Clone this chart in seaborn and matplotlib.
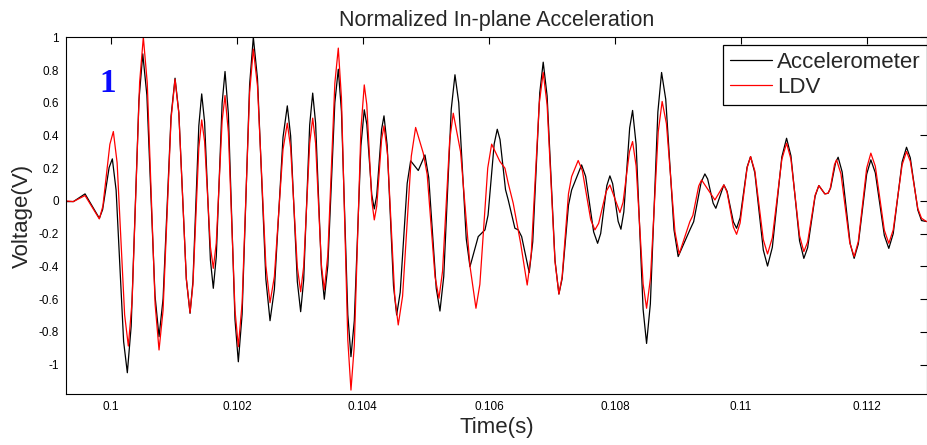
import numpy as np
import pandas as pd
import matplotlib
matplotlib.use("Agg")
import matplotlib.pyplot as plt
import seaborn as sns

# ---- data (time in ms, voltage normalized) ----
acc_t_ms = [99.291, 99.407, 99.592, 99.819, 99.871, 99.974, 100.025, 100.085, 100.204, 100.263,
            100.324, 100.447, 100.508, 100.573, 100.702, 100.766, 100.830, 100.957, 101.020, 101.080,
            101.199, 101.258, 101.304, 101.397, 101.443, 101.489, 101.581, 101.627, 101.674, 101.767,
            101.813, 101.866, 101.971, 102.024, 102.084, 102.203, 102.262, 102.328, 102.461, 102.527,
            102.596, 102.733, 102.801, 102.854, 102.960, 103.013, 103.061, 103.156, 103.204, 103.250,
            103.342, 103.388, 103.444, 103.555, 103.610, 103.660, 103.761, 103.811, 103.864, 103.969,
            104.022, 104.062, 104.141, 104.181, 104.220, 104.297, 104.335, 104.385, 104.486, 104.536,
            104.592, 104.703, 104.758, 104.879, 104.985, 105.045, 105.164, 105.223, 105.283, 105.402,
            105.461, 105.521, 105.640, 105.699, 105.830, 105.937, 105.986, 106.083, 106.132, 106.176,
            106.263, 106.306, 106.412, 106.465, 106.519, 106.639, 106.695, 106.806, 106.861, 106.923,
            107.048, 107.110, 107.161, 107.262, 107.312, 107.470, 107.534, 107.661, 107.724, 107.773,
            107.870, 107.919, 107.963, 108.050, 108.094, 108.140, 108.233, 108.279, 108.335, 108.446,
            108.501, 108.561, 108.680, 108.739, 108.805, 108.936, 109.002, 109.188, 109.248, 109.367,
            109.426, 109.470, 109.557, 109.600, 109.727, 109.778, 109.878, 109.929, 109.985, 110.096,
            110.151, 110.218, 110.353, 110.420, 110.496, 110.647, 110.722, 110.791, 110.928, 110.996,
            111.056, 111.175, 111.234, 111.329, 111.381, 111.421, 111.500, 111.540, 111.604, 111.731,
            111.794, 111.860, 111.993, 112.059, 112.130, 112.273, 112.344, 112.414, 112.555, 112.625,
            112.685, 112.804, 112.863, 112.942]
acc_v = [-0.004, -0.004, 0.043, -0.106, -0.053, 0.204, 0.257, 0.066, -0.859, -1.05,
         -0.765, 0.614, 0.899, 0.647, -0.578, -0.83, -0.599, 0.519, 0.75, 0.540,
         -0.477, -0.687, -0.491, 0.458, 0.654, 0.481, -0.361, -0.534, -0.341, 0.598,
         0.791, 0.532, -0.724, -0.983, -0.693, 0.710, 1.0, 0.747, -0.479, -0.732,
         -0.540, 0.389, 0.581, 0.397, -0.493, -0.677, -0.482, 0.464, 0.659, 0.475,
         -0.417, -0.601, -0.396, 0.600, 0.805, 0.548, -0.695, -0.952, -0.732, 0.337,
         0.557, 0.469, 0.039, -0.049, 0.034, 0.437, 0.52, 0.342, -0.519, -0.697,
         -0.559, 0.107, 0.245, 0.186, 0.281, 0.142, -0.534, -0.673, -0.462, 0.560,
         0.771, 0.600, -0.231, -0.402, -0.218, -0.177, -0.087, 0.348, 0.438, 0.375,
         0.069, 0.006, -0.167, -0.177, -0.218, -0.438, -0.250, 0.660, 0.848, 0.641,
         -0.362, -0.569, -0.476, -0.026, 0.067, 0.22, 0.150, -0.189, -0.259, -0.199,
         0.093, 0.153, 0.105, -0.125, -0.173, -0.067, 0.447, 0.553, 0.345, -0.663,
         -0.871, -0.629, 0.543, 0.785, 0.621, -0.176, -0.34, -0.177, -0.127, 0.115,
         0.165, 0.134, -0.014, -0.045, 0.098, 0.059, -0.128, -0.167, -0.103, 0.207,
         0.271, 0.173, -0.300, -0.398, -0.284, 0.269, 0.383, 0.276, -0.244, -0.351,
         -0.286, 0.029, 0.094, 0.043, 0.047, 0.079, 0.235, 0.267, 0.177, -0.261,
         -0.351, -0.263, 0.163, 0.251, 0.172, -0.211, -0.29, -0.200, 0.238, 0.328,
         0.263, -0.055, -0.12, -0.126]

ldv_t_ms = [99.291, 99.407, 99.592, 99.819, 99.875, 99.986, 100.041, 100.101, 100.220, 100.279,
            100.339, 100.458, 100.517, 100.579, 100.704, 100.766, 100.830, 100.957, 101.020, 101.080,
            101.199, 101.258, 101.304, 101.397, 101.443, 101.489, 101.581, 101.627, 101.674, 101.767,
            101.813, 101.866, 101.971, 102.024, 102.084, 102.203, 102.262, 102.328, 102.461, 102.527,
            102.596, 102.733, 102.801, 102.854, 102.960, 103.013, 103.061, 103.156, 103.204, 103.250,
            103.342, 103.388, 103.444, 103.555, 103.610, 103.660, 103.761, 103.811, 103.864, 103.969,
            104.022, 104.062, 104.141, 104.181, 104.220, 104.297, 104.335, 104.392, 104.505, 104.561,
            104.630, 104.768, 104.837, 104.958, 105.020, 105.145, 105.207, 105.264, 105.377, 105.434,
            105.550, 105.700, 105.794, 105.856, 105.981, 106.043, 106.174, 106.254, 106.306, 106.385,
            106.503, 106.607, 106.671, 106.798, 106.861, 106.923, 107.048, 107.110, 107.161, 107.262,
            107.312, 107.416, 107.482, 107.615, 107.681, 107.741, 107.860, 107.919, 108.078, 108.128,
            108.229, 108.279, 108.335, 108.446, 108.501, 108.563, 108.686, 108.748, 108.816, 108.951,
            109.018, 109.109, 109.188, 109.235, 109.328, 109.374, 109.585, 109.727, 109.778, 109.878,
            109.929, 109.985, 110.096, 110.151, 110.218, 110.353, 110.420, 110.496, 110.647, 110.722,
            110.791, 110.928, 110.996, 111.056, 111.175, 111.234, 111.329, 111.381, 111.415, 111.482,
            111.515, 111.585, 111.724, 111.794, 111.860, 111.993, 112.059, 112.130, 112.273, 112.344,
            112.414, 112.555, 112.625, 112.685, 112.804, 112.863, 112.942]
ldv_v = [0.0, -0.004, 0.033, -0.11, -0.032, 0.346, 0.424, 0.233, -0.696, -0.887,
         -0.611, 0.724, 1.0, 0.721, -0.632, -0.911, -0.669, 0.502, 0.744, 0.536,
         -0.475, -0.683, -0.511, 0.323, 0.495, 0.363, -0.280, -0.412, -0.258, 0.490,
         0.644, 0.420, -0.667, -0.891, -0.625, 0.662, 0.928, 0.702, -0.396, -0.622,
         -0.462, 0.315, 0.475, 0.325, -0.405, -0.555, -0.400, 0.351, 0.506, 0.353,
         -0.391, -0.544, -0.328, 0.718, 0.934, 0.629, -0.851, -1.156, -0.884, 0.437,
         0.709, 0.589, 0.004, -0.116, -0.032, 0.375, 0.459, 0.281, -0.580, -0.758,
         -0.582, 0.273, 0.449, 0.292, 0.162, -0.465, -0.595, -0.430, 0.370, 0.536,
         0.30, -0.40, -0.656, -0.510, 0.201, 0.347, 0.241, 0.2, 0.108, -0.014,
         -0.259, -0.514, -0.324, 0.595, 0.785, 0.587, -0.371, -0.569, -0.464, 0.044,
         0.149, 0.247, 0.185, -0.115, -0.177, -0.137, 0.058, 0.098, -0.071, -0.008,
         0.300, 0.363, 0.214, -0.507, -0.656, -0.471, 0.423, 0.608, 0.472, -0.188,
         -0.324, -0.218, -0.126, -0.089, 0.091, 0.128, 0.006, 0.098, 0.054, -0.160,
         -0.204, -0.135, 0.202, 0.271, 0.184, -0.237, -0.324, -0.225, 0.254, 0.353,
         0.256, -0.213, -0.31, -0.251, 0.035, 0.094, 0.043, 0.047, 0.077, 0.221,
         0.251, 0.165, -0.254, -0.34, -0.248, 0.200, 0.292, 0.212, -0.179, -0.259,
         -0.177, 0.220, 0.302, 0.242, -0.046, -0.106, -0.126]

x_ticks = [0.1, 0.102, 0.104, 0.106, 0.108, 0.11, 0.112]
x_tick_labels = ["0.1", "0.102", "0.104", "0.106", "0.108", "0.11", "0.112"]
y_ticks = [-1, -0.8, -0.6, -0.4, -0.2, 0, 0.2, 0.4, 0.6, 0.8, 1]
y_tick_labels = ["-1", "-0.8", "-0.6", "-0.4", "-0.2", "0", "0.2", "0.4", "0.6", "0.8", "1"]

acc = pd.DataFrame({"t": np.array(acc_t_ms) / 1000.0, "v": acc_v})
ldv = pd.DataFrame({"t": np.array(ldv_t_ms) / 1000.0, "v": ldv_v})

sns.set_style("white")
plt.rcParams["font.family"] = ["Liberation Sans", "DejaVu Sans"]

fig = plt.figure(figsize=(9.28, 4.45), dpi=100)
ax = fig.add_axes([66 / 928, 1 - 394 / 445, (927 - 66) / 928, (394 - 37.3) / 445])

sns.lineplot(data=acc, x="t", y="v", ax=ax, color="black", linewidth=0.9,
             label="Accelerometer", sort=False)
sns.lineplot(data=ldv, x="t", y="v", ax=ax, color="red", linewidth=0.9,
             label="LDV", sort=False)

ax.set_xlim(0.09929, 0.11295)
ax.set_ylim(-1.18, 1.0)
ax.set_xticks(x_ticks)
ax.set_xticklabels(x_tick_labels)
ax.set_yticks(y_ticks)
ax.set_yticklabels(y_tick_labels)
ax.tick_params(direction="in", top=True, right=True, length=5, width=0.8,
               labelsize=8.5, colors="black", pad=5)
for s in ax.spines.values():
    s.set_color("black")
    s.set_linewidth(0.8)

ax.set_xlabel("Time(s)", fontsize=16, labelpad=3)
ax.set_ylabel("Voltage(V)", fontsize=16, labelpad=4)
ax.set_title("Normalized In-plane Acceleration", fontsize=15.5, pad=8)

leg = ax.legend(loc="upper right", bbox_to_anchor=(1.0, 0.978), borderaxespad=0,
                fontsize=16, frameon=True, fancybox=False, framealpha=1,
                edgecolor="black", handlelength=1.9, handletextpad=0.2,
                borderpad=0.3, labelspacing=0.2)
leg.get_frame().set_linewidth(0.9)

fig.text(108 / 928, 1 - 83 / 445, "1", ha="center", va="center", fontsize=24,
         fontweight="bold", family="Liberation Serif", color="#0a0aff")

fig.savefig("out.png", dpi=100)
